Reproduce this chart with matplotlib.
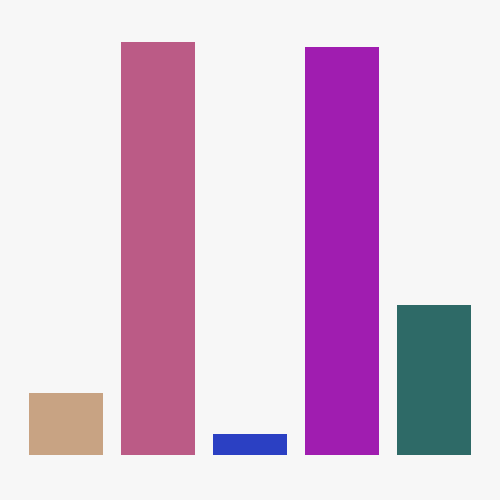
import matplotlib
matplotlib.use("Agg")
import matplotlib.pyplot as plt

# bar values (tallest = 100)
categories = ["A", "B", "C", "D", "E"]
values = [15, 100, 5, 98.8, 36.3]
colors = ["#c8a383", "#bb5b86", "#2b40c3", "#a01db0", "#2e6a67"]

fig = plt.figure(figsize=(5, 5), dpi=100, facecolor="#f7f7f7")
# axes placed so that bars sit from x=20..480 px and y=45..458 px
ax = fig.add_axes([20 / 500, 45 / 500, 460 / 500, 413 / 500])
ax.set_facecolor("#f7f7f7")

x = range(len(categories))
ax.bar(x, values, width=0.8, color=colors)
ax.set_xlim(-0.5, len(categories) - 0.5)
ax.set_ylim(0, 100)
ax.axis("off")

fig.savefig("out.png", dpi=100, facecolor=fig.get_facecolor())
